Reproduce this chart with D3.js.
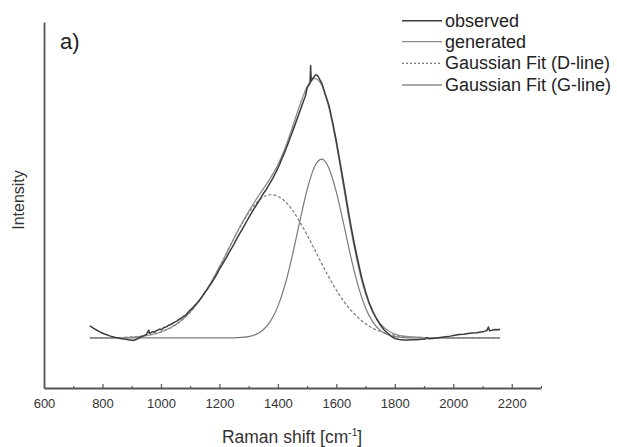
<!DOCTYPE html>
<html>
<head>
<meta charset="utf-8">
<script src="https://cdn.jsdelivr.net/npm/d3@7"></script>
<style>
  html, body { margin: 0; padding: 0; background: #ffffff; }
  svg { display: block; font-family: "Liberation Sans", Arial, sans-serif; }
</style>
</head>
<body>
<svg id="chart" width="617" height="447"></svg>
<script>
// ---------------- data ----------------
const xTicksMajor = [600, 800, 1000, 1200, 1400, 1600, 1800, 2000, 2200];
const xTicksMinor = [700, 900, 1100, 1300, 1500, 1700, 1900, 2100, 2300];

const legendLabels = ["observed", "generated", "Gaussian Fit (D-line)", "Gaussian Fit (G-line)"];

// wavenumber grid of the fitted curves (cm^-1)
const fitX = [757, 800, 850, 900, 950, 1000, 1050, 1100, 1150, 1200, 1250, 1275, 1300, 1325, 1350,
              1375, 1400, 1425, 1450, 1475, 1500, 1525, 1550, 1575, 1600, 1625, 1650, 1675, 1700,
              1725, 1750, 1775, 1800, 1850, 1900, 1950, 2000, 2100, 2160];
// D-line Gaussian fit
const dLine = [0, 0.0003, 0.001, 0.0034, 0.0093, 0.0227, 0.0498, 0.0977, 0.171, 0.269, 0.378, 0.430,
               0.475, 0.511, 0.535, 0.544, 0.538, 0.518, 0.485, 0.441, 0.391, 0.337, 0.282, 0.230,
               0.182, 0.140, 0.105, 0.077, 0.054, 0.037, 0.025, 0.016, 0.010, 0.004, 0.0016, 0.0005,
               0.0001, 0, 0];
// G-line Gaussian fit
const gLine = [0, 0, 0, 0, 0, 0, 0, 0, 0, 0, 0.0006, 0.002, 0.005, 0.0135, 0.031, 0.064, 0.120,
               0.204, 0.316, 0.443, 0.563, 0.649, 0.679, 0.644, 0.554, 0.433, 0.306, 0.196, 0.114,
               0.060, 0.029, 0.013, 0.005, 0.0006, 0, 0, 0, 0, 0];
// generated spectrum
const generated = [0, 0.0003, 0.001, 0.0034, 0.0093, 0.0227, 0.050, 0.098, 0.171, 0.269, 0.379, 0.432,
                   0.480, 0.525, 0.566, 0.608, 0.658, 0.722, 0.801, 0.884, 0.954, 0.986, 0.961, 0.874,
                   0.736, 0.573, 0.411, 0.273, 0.168, 0.097, 0.054, 0.029, 0.015, 0.0046, 0.0016,
                   0.0005, 0.0001, 0, 0];

// observed spectrum
const obsX = [757, 765, 775, 785, 795, 805, 815, 825, 835, 845, 855, 865, 875, 885, 895, 905, 912, 920,
              928, 936, 944, 950, 955, 958, 961, 966, 972, 978, 984, 990, 996, 1002, 1008, 1014, 1020,
              1026, 1032, 1038, 1044, 1050, 1056, 1062, 1068, 1074, 1080, 1086, 1092, 1098, 1104, 1110,
              1116, 1122, 1128, 1134, 1140, 1146, 1152, 1158, 1164, 1170, 1176, 1182, 1188, 1194, 1200,
              1206, 1212, 1218, 1224, 1230, 1236, 1242, 1248, 1254, 1260, 1266, 1272, 1278, 1284, 1290,
              1296, 1302, 1310, 1318, 1326, 1334, 1342, 1350, 1358, 1366, 1374, 1382, 1390, 1398, 1406,
              1414, 1422, 1430, 1438, 1446, 1454, 1462, 1470, 1478, 1486, 1494, 1500, 1506, 1510, 1512,
              1514, 1518, 1522, 1526, 1530, 1534, 1538, 1542, 1550, 1562, 1575, 1588, 1600, 1612, 1625,
              1638, 1650, 1662, 1675, 1688, 1700, 1712, 1725, 1738, 1750, 1762, 1775, 1788, 1800, 1815,
              1830, 1845, 1860, 1875, 1890, 1905, 1910, 1915, 1930, 1945, 1960, 1975, 1990, 2005, 2020,
              2035, 2050, 2065, 2080, 2095, 2105, 2115, 2120, 2124, 2135, 2145, 2155, 2160];
const obsY = [0.046, 0.040, 0.033, 0.027, 0.021, 0.016, 0.012, 0.008, 0.005, 0.002, 0.000, -0.003,
              -0.004, -0.006, -0.008, -0.010, -0.007, -0.003, 0.002, 0.006, 0.010, 0.013, 0.022, 0.030,
              0.018, 0.020, 0.024, 0.022, 0.028, 0.030, 0.034, 0.031, 0.038, 0.041, 0.043, 0.048, 0.050,
              0.054, 0.058, 0.062, 0.065, 0.071, 0.074, 0.079, 0.084, 0.088, 0.096, 0.104, 0.110, 0.116,
              0.124, 0.131, 0.139, 0.147, 0.156, 0.166, 0.176, 0.184, 0.195, 0.204, 0.214, 0.225, 0.236,
              0.248, 0.262, 0.272, 0.283, 0.295, 0.305, 0.318, 0.330, 0.341, 0.353, 0.366, 0.378, 0.390,
              0.402, 0.412, 0.425, 0.436, 0.448, 0.460, 0.475, 0.490, 0.504, 0.518, 0.533, 0.548, 0.560,
              0.575, 0.590, 0.605, 0.622, 0.640, 0.660, 0.682, 0.702, 0.724, 0.748, 0.772, 0.796, 0.820,
              0.845, 0.870, 0.895, 0.918, 0.950, 0.960, 0.968, 1.035, 0.975, 0.982, 0.990, 0.995, 1.000,
              0.998, 0.993, 0.984, 0.968, 0.925, 0.882, 0.815, 0.748, 0.672, 0.588, 0.502, 0.425, 0.355,
              0.287, 0.223, 0.176, 0.134, 0.100, 0.072, 0.050, 0.032, 0.018, 0.006, -0.002, -0.006,
              -0.008, -0.008, -0.007, -0.007, -0.005, -0.004, 0.002, -0.003, -0.002, 0.000, 0.003, 0.005,
              0.007, 0.010, 0.013, 0.014, 0.017, 0.019, 0.020, 0.023, 0.025, 0.028, 0.042, 0.027, 0.030,
              0.032, 0.031, 0.034];

// ---------------- layout ----------------
const svg = d3.select("#chart");
const x = d3.scaleLinear().domain([600, 2300]).range([44, 541]);
const y = d3.scaleLinear().domain([-0.19, 1.2]).range([388, 22]);
const axisColor = "#555";

// x axis (major ticks + labels)
const xAxis = svg.append("g")
  .attr("transform", `translate(0,${y.range()[0]})`)
  .call(d3.axisBottom(x).tickValues(xTicksMajor).tickFormat(d3.format("d"))
        .tickSizeInner(-4).tickSizeOuter(0).tickPadding(11));
xAxis.select(".domain").attr("stroke", axisColor).attr("stroke-width", 1.8);
xAxis.selectAll(".tick line").attr("stroke", axisColor).attr("stroke-width", 1.2);
xAxis.selectAll(".tick text").attr("fill", "#333").attr("font-size", 13)
  .attr("font-family", "'Liberation Sans', Arial, sans-serif");

// minor ticks
const xMinor = svg.append("g")
  .attr("transform", `translate(0,${y.range()[0]})`)
  .call(d3.axisBottom(x).tickValues(xTicksMinor).tickFormat("").tickSizeInner(-2).tickSizeOuter(0));
xMinor.select(".domain").remove();
xMinor.selectAll(".tick line").attr("stroke", axisColor).attr("stroke-width", 1.2);

// y axis (no ticks)
const yAxis = svg.append("g")
  .attr("transform", `translate(${x.range()[0]},0)`)
  .call(d3.axisLeft(y).tickValues([]).tickSizeOuter(0));
yAxis.select(".domain").attr("stroke", axisColor).attr("stroke-width", 1.8);

// ---------------- curves ----------------
const smooth = d3.line().x(d => x(d[0])).y(d => y(d[1])).curve(d3.curveMonotoneX);
const raw = d3.line().x(d => x(d[0])).y(d => y(d[1]));

svg.append("path").datum(fitX.map((v, i) => [v, gLine[i]]))
  .attr("d", smooth).attr("fill", "none").attr("stroke", "#7a7a7a").attr("stroke-width", 1.2);
svg.append("path").datum(fitX.map((v, i) => [v, dLine[i]]))
  .attr("d", smooth).attr("fill", "none").attr("stroke", "#7a7a7a").attr("stroke-width", 1.2)
  .attr("stroke-dasharray", "3,2");
svg.append("path").datum(fitX.map((v, i) => [v, generated[i]]))
  .attr("d", smooth).attr("fill", "none").attr("stroke", "#8c8c8c").attr("stroke-width", 1.3);
svg.append("path").datum(obsX.map((v, i) => [v, obsY[i]]))
  .attr("d", raw).attr("fill", "none").attr("stroke", "#3c3c3c").attr("stroke-width", 1.5)
  .attr("stroke-linejoin", "round");

// ---------------- texts ----------------
svg.append("text").attr("x", 60).attr("y", 49).attr("font-size", 22).attr("fill", "#222").text("a)");

svg.append("text").attr("transform", "translate(24,200) rotate(-90)")
  .attr("text-anchor", "middle").attr("font-size", 16).attr("fill", "#333").text("Intensity");

const title = svg.append("text").attr("x", 292).attr("y", 443).attr("text-anchor", "middle")
  .attr("font-size", 17.5).attr("fill", "#333");
title.append("tspan").text("Raman shift [cm");
title.append("tspan").attr("dy", -7).attr("font-size", 10).text("-1");
title.append("tspan").attr("dy", 7).text("]");

// ---------------- legend ----------------
const legendStyles = [
  { stroke: "#3c3c3c", dash: null, width: 1.4 },
  { stroke: "#8c8c8c", dash: null, width: 1.2 },
  { stroke: "#7a7a7a", dash: "2,2", width: 1.2 },
  { stroke: "#555", dash: null, width: 1.2 }
];
const legendY = [20.7, 41.7, 63.3, 85];
const lg = svg.append("g");
legendLabels.forEach((lab, i) => {
  lg.append("line").attr("x1", 402).attr("x2", 442).attr("y1", legendY[i]).attr("y2", legendY[i])
    .attr("stroke", legendStyles[i].stroke).attr("stroke-width", legendStyles[i].width)
    .attr("stroke-dasharray", legendStyles[i].dash);
  lg.append("text").attr("x", 445).attr("y", legendY[i] + 6).attr("font-size", 18)
    .attr("fill", "#222").text(lab);
});
</script>
</body>
</html>
